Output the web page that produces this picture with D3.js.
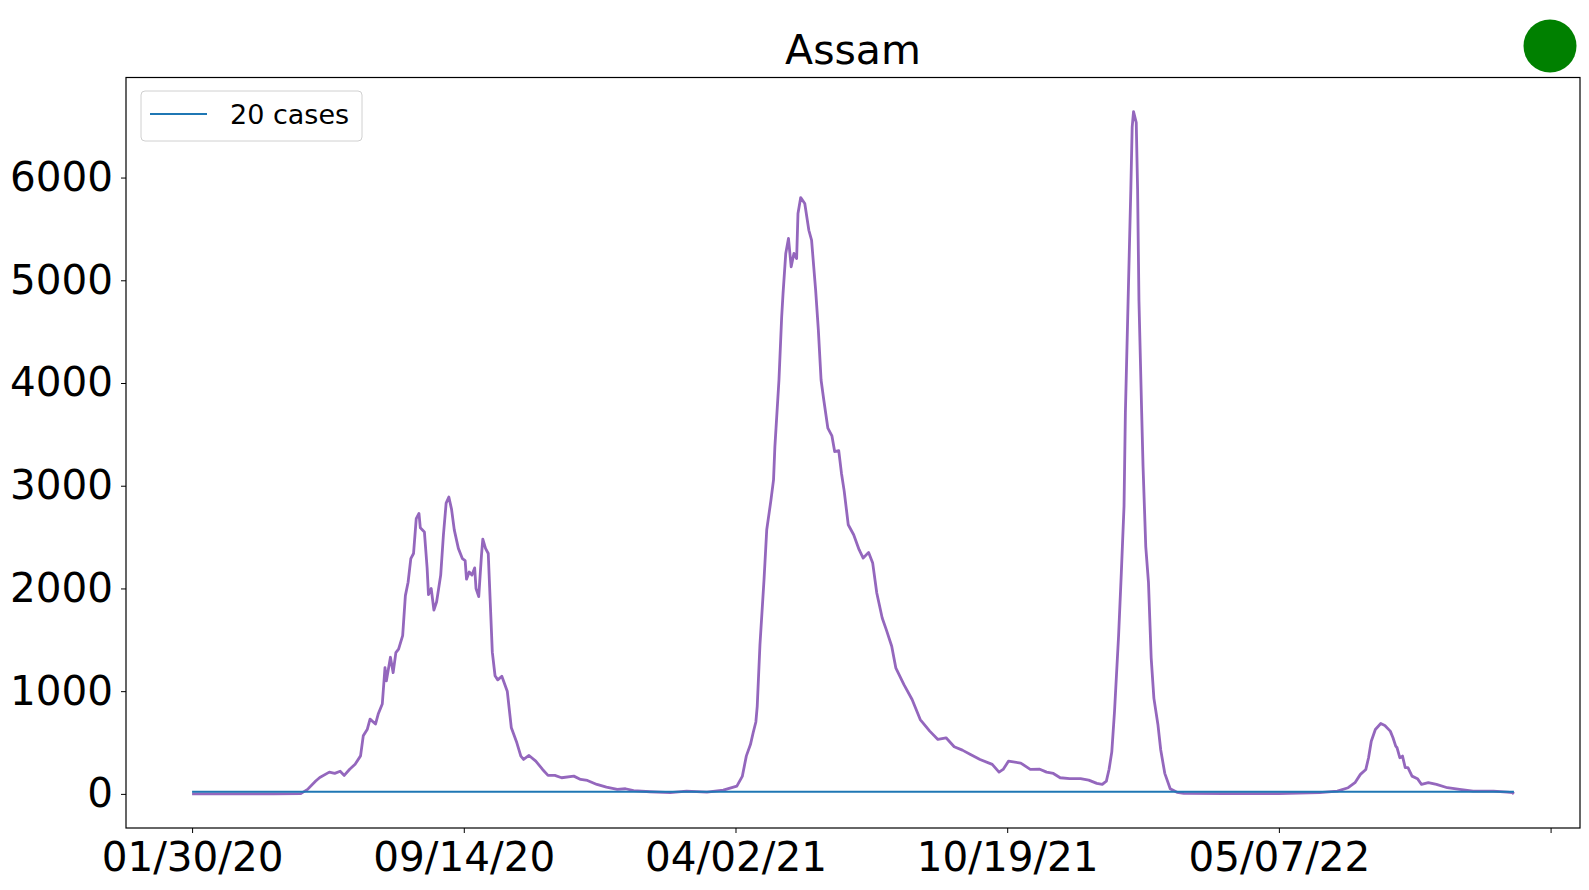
<!DOCTYPE html>
<html>
<head>
<meta charset="utf-8">
<script src="https://cdn.jsdelivr.net/npm/d3@7"></script>
<style>
  body { margin: 0; background: #fff; }
  text { font-family: "DejaVu Sans", sans-serif; }
</style>
</head>
<body>
<div id="chart"></div>
<script>
// row index of each reading (ticks are every 200 rows)
var dayIdx = [0, 20, 40, 60, 80, 85, 91, 94, 101, 105, 109, 112, 116, 120, 124, 126, 129, 131, 135, 137,
  140, 142, 143, 146, 148, 150, 152, 155, 157, 159, 161, 163, 165, 167, 168, 171, 173, 174, 176, 178,
  180, 183, 185, 187, 189, 191, 193, 196, 199, 201, 202, 204, 206, 208, 209, 211, 213, 214, 216, 218,
  221, 223, 225, 228, 232, 235, 239, 242, 244, 248, 253, 258, 262, 267, 272, 281, 286, 291, 298, 305,
  313, 319, 325, 337, 352, 364, 379, 391, 401, 405, 408, 411, 413, 415, 416, 418, 421, 423, 426, 428,
  429, 432, 434, 435, 437, 439, 441, 443, 445, 446, 448, 451, 454, 456, 459, 461, 463, 465, 468, 471,
  473, 476, 478, 480, 483, 487, 491, 494, 498, 501, 504, 508, 511, 515, 518, 524, 530, 536, 543, 549,
  555, 561, 567, 573, 580, 589, 594, 597, 601, 610, 617, 624, 629, 634, 639, 646, 654, 660, 666, 670,
  673, 675, 677, 679, 682, 684, 686, 687, 689, 691, 692, 693, 695, 696, 697, 699, 700, 702, 704, 706,
  708, 711, 713, 716, 720, 725, 730, 760, 800, 830, 843, 851, 856, 860, 864, 866, 868, 871, 875, 878,
  882, 884, 886, 887, 889, 891, 893, 895, 898, 902, 905, 910, 916, 924, 933, 943, 958, 968, 972, 973]

var cases = [0, 0, 0, 1, 3, 44, 125, 160, 212, 200, 220, 180, 240, 288, 370, 565, 630, 728, 680, 777,
  875, 1230, 1100, 1330, 1180, 1375, 1410, 1540, 1930, 2060, 2290, 2340, 2680, 2730, 2590, 2550, 2200, 1940, 2000, 1790,
  1870, 2130, 2520, 2830, 2890, 2770, 2570, 2390, 2290, 2270, 2090, 2160, 2130, 2200, 2000, 1920, 2320, 2480, 2390, 2340,
  1380, 1150, 1110, 1145, 1000, 643, 500, 367, 335, 374, 319, 238, 180, 180, 157, 173, 141, 131, 92, 66,
  44, 50, 31, 21, 12, 27, 18, 37, 76, 170, 370, 480, 595, 700, 853, 1450, 2085, 2571, 2850, 3057,
  3381, 4029, 4645, 4870, 5261, 5407, 5131, 5261, 5212, 5650, 5805, 5747, 5487, 5390, 4904, 4515, 4029, 3835, 3560, 3485,
  3333, 3342, 3122, 2950, 2620, 2523, 2377, 2296, 2351, 2247, 1956, 1713, 1599, 1437, 1227, 1064, 919, 724, 611, 530,
  546, 459, 426, 384, 335, 287, 212, 238, 319, 300, 238, 240, 212, 199, 157, 148, 148, 134, 102, 92,
  124, 240, 409, 802, 1539, 2147, 2799, 3711, 4797, 5882, 6491, 6642, 6535, 5882, 4797, 3711, 3190, 2408, 2060, 1322,
  930, 670, 430, 200, 50, 15, 5, 2, 3, 12, 27, 60, 109, 190, 238, 352, 513, 627, 685, 666,
  611, 546, 465, 449, 352, 368, 255, 255, 173, 148, 92, 109, 92, 60, 44, 27, 27, 18, 12, 0]

var threshold = 20
var xTickIdx = [0, 200, 400, 600, 800, 1000]
var xTickLabels = ["01/30/20", "09/14/20", "04/02/21", "10/19/21", "05/07/22", ""]
var yTicks = [0, 1000, 2000, 3000, 4000, 5000, 6000]

drawChart()

function drawChart() {
  var W = 1589, H = 890
  var left = 126, right = 1580, top = 77.5, bottom = 828

  var svg = d3.select("#chart")
    .append("svg")
    .attr("width", W)
    .attr("height", H)

  var points = dayIdx.map(function(d, i){ return {x: d, y: cases[i]} })

  // matplotlib-like 5% margins
  var xMin = d3.min(dayIdx), xMax = d3.max(dayIdx)
  var xPad = (xMax - xMin) * 0.05
  var yMin = Math.min(d3.min(cases), threshold), yMax = Math.max(d3.max(cases), threshold)
  var yPad = (yMax - yMin) * 0.05

  var xScale = d3.scaleLinear()
    .domain([xMin - xPad, xMax + xPad])
    .range([left, right])
  var yScale = d3.scaleLinear()
    .domain([yMin - yPad, yMax + yPad])
    .range([bottom, top])

  var plot = svg.append("g")

  var line = d3.line()
    .x(function(d){ return xScale(d.x) })
    .y(function(d){ return yScale(d.y) })

  plot.append("path")
    .datum(points)
    .attr("fill", "none")
    .attr("stroke", "#9467bd")
    .attr("stroke-width", 2.8)
    .attr("stroke-linejoin", "round")
    .attr("d", line)

  plot.append("path")
    .datum([{x: xMin, y: threshold}, {x: xMax, y: threshold}])
    .attr("fill", "none")
    .attr("stroke", "#1f77b4")
    .attr("stroke-width", 2)
    .attr("d", line)

  // frame
  svg.append("rect")
    .attr("x", left).attr("y", top)
    .attr("width", right - left).attr("height", bottom - top)
    .attr("fill", "none")
    .attr("stroke", "#000")
    .attr("stroke-width", 1.2)

  var xAxis = d3.axisBottom(xScale)
    .tickValues(xTickIdx)
    .tickFormat(function(d, i){ return xTickLabels[i] })
    .tickSizeOuter(0)
    .tickSize(5)
    .tickPadding(9)
  var gx = svg.append("g")
    .attr("transform", "translate(0," + bottom + ")")
    .call(xAxis)
  gx.select(".domain").remove()
  gx.selectAll("text").attr("font-size", 40.5).attr("font-family", "DejaVu Sans").attr("fill", "#000")

  var yAxis = d3.axisLeft(yScale)
    .tickValues(yTicks)
    .tickFormat(d3.format("d"))
    .tickSizeOuter(0)
    .tickSize(5)
    .tickPadding(8)
  var gy = svg.append("g")
    .attr("transform", "translate(" + left + ",0)")
    .call(yAxis)
  gy.select(".domain").remove()
  gy.selectAll("text").attr("font-size", 40.5).attr("font-family", "DejaVu Sans").attr("fill", "#000")

  // title
  svg.append("text")
    .attr("x", (left + right) / 2)
    .attr("y", 64)
    .attr("text-anchor", "middle")
    .attr("font-size", 41)
    .text("Assam")

  // status dot
  svg.append("circle")
    .attr("cx", 1550).attr("cy", 46).attr("r", 26.5)
    .attr("fill", "green")

  // legend
  var lg = svg.append("g").attr("transform", "translate(141,91)")
  lg.append("rect")
    .attr("width", 221).attr("height", 50).attr("rx", 4)
    .attr("fill", "#fff").attr("fill-opacity", 0.8)
    .attr("stroke", "#d0d0d0").attr("stroke-width", 1)
  lg.append("line")
    .attr("x1", 9).attr("x2", 66).attr("y1", 23).attr("y2", 23)
    .attr("stroke", "#1f77b4").attr("stroke-width", 2)
  lg.append("text")
    .attr("x", 89).attr("y", 23).attr("dy", "0.36em")
    .attr("font-size", 27)
    .text(threshold + " cases")
}
</script>
</body>
</html>
